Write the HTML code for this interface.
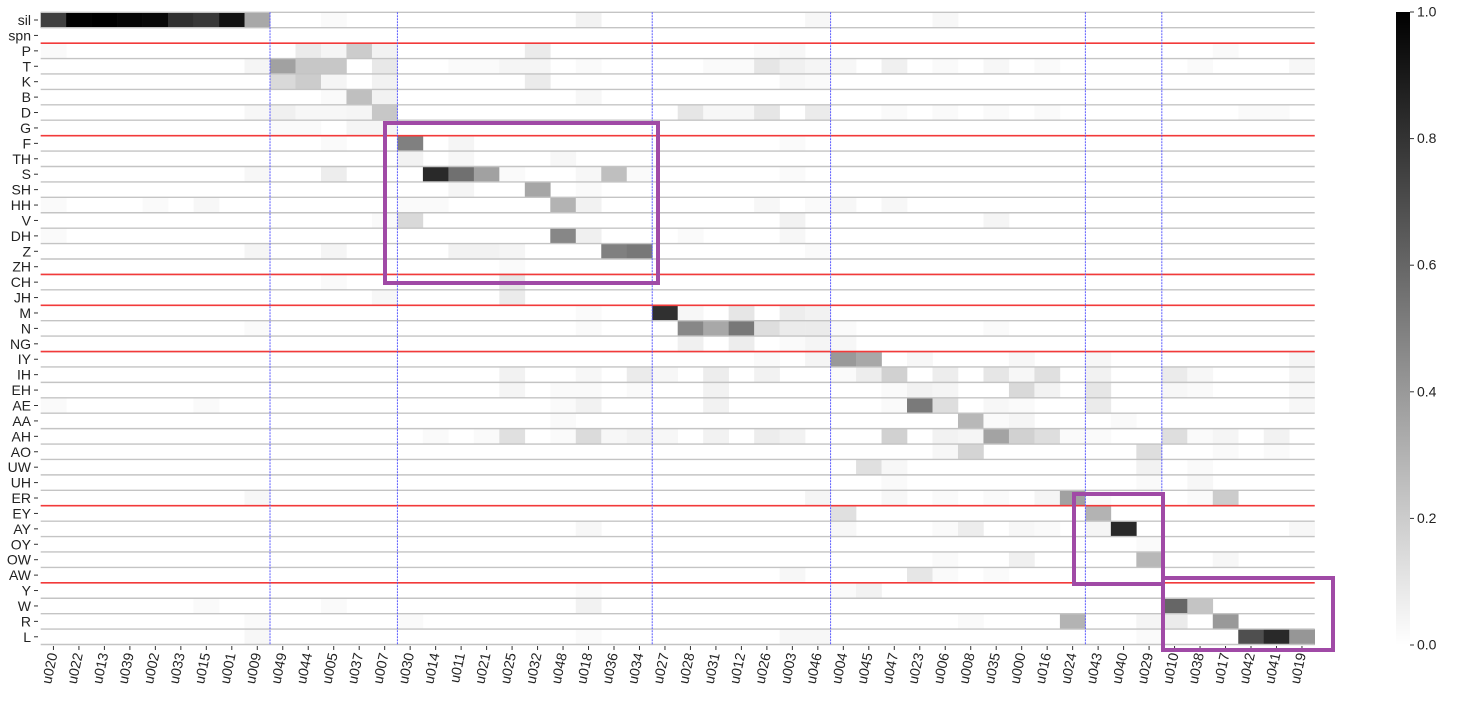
<!DOCTYPE html>
<html><head><meta charset="utf-8"><style>
html,body{margin:0;padding:0;background:#fff;}
svg text{font-family:"Liberation Sans","DejaVu Sans",sans-serif;font-size:14px;fill:#222;}
</style></head><body>
<svg id="chart" width="1460" height="698" viewBox="0 0 1460 698" xmlns="http://www.w3.org/2000/svg">
<g id="cells"></g>
<g id="grid"></g>
<g id="seps"></g>
<g id="ylabels"></g>
<g id="xlabels"></g>
<g id="boxes"></g>
<g id="cbar"></g>
</svg>
<script>
const rows=["sil","spn","P","T","K","B","D","G","F","TH","S","SH","HH","V","DH","Z","ZH","CH","JH","M","N","NG","IY","IH","EH","AE","AA","AH","AO","UW","UH","ER","EY","AY","OY","OW","AW","Y","W","R","L"];
const cols=["u020","u022","u013","u039","u002","u033","u015","u001","u009","u049","u044","u005","u037","u007","u030","u014","u011","u021","u025","u032","u048","u018","u036","u034","u027","u028","u031","u012","u026","u003","u046","u004","u045","u047","u023","u006","u008","u035","u000","u016","u024","u043","u040","u029","u010","u038","u017","u042","u041","u019"];
// sparse cells: [rowIndex, colIndex, value]
const cells=[
[0,0,0.75],[0,1,0.99],[0,2,1.0],[0,3,0.98],[0,4,0.97],[0,5,0.81],[0,6,0.78],[0,7,0.93],[0,8,0.34],[0,11,0.02],[0,21,0.05],[0,30,0.03],[0,35,0.03],
[2,0,0.02],[2,10,0.08],[2,11,0.04],[2,12,0.2],[2,13,0.05],[2,19,0.08],[2,28,0.02],[2,29,0.03],[2,46,0.02],
[3,8,0.04],[3,9,0.37],[3,10,0.22],[3,11,0.22],[3,13,0.09],[3,16,0.02],[3,17,0.02],[3,18,0.04],[3,19,0.04],[3,21,0.02],[3,26,0.02],[3,27,0.02],[3,28,0.1],[3,29,0.06],[3,30,0.04],[3,31,0.03],[3,33,0.06],[3,35,0.02],[3,37,0.03],[3,39,0.02],[3,45,0.02],[3,49,0.03],
[4,9,0.15],[4,10,0.2],[4,11,0.04],[4,13,0.05],[4,19,0.08],[4,29,0.03],[4,30,0.02],
[5,11,0.02],[5,12,0.25],[5,13,0.05],[5,21,0.03],
[6,8,0.03],[6,9,0.06],[6,10,0.03],[6,11,0.03],[6,12,0.04],[6,13,0.22],[6,25,0.1],[6,26,0.03],[6,27,0.03],[6,28,0.1],[6,30,0.08],[6,33,0.02],[6,35,0.02],[6,37,0.02],[6,39,0.02],[6,47,0.02],[6,48,0.02],
[7,9,0.02],[7,10,0.02],[7,12,0.04],[7,13,0.04],
[8,11,0.02],[8,14,0.5],[8,16,0.04],[8,29,0.02],
[9,14,0.05],[9,16,0.03],[9,20,0.03],
[10,8,0.03],[10,11,0.07],[10,15,0.84],[10,16,0.56],[10,17,0.37],[10,18,0.02],[10,21,0.03],[10,22,0.25],[10,23,0.02],[10,29,0.02],
[11,16,0.04],[11,19,0.35],[11,21,0.02],
[12,0,0.02],[12,4,0.02],[12,6,0.03],[12,14,0.02],[12,15,0.02],[12,20,0.3],[12,21,0.05],[12,28,0.03],[12,30,0.02],[12,31,0.03],[12,33,0.03],
[13,13,0.02],[13,14,0.15],[13,29,0.05],[13,37,0.04],
[14,0,0.02],[14,20,0.47],[14,21,0.06],[14,25,0.02],[14,29,0.03],
[15,8,0.04],[15,11,0.04],[15,16,0.05],[15,17,0.05],[15,18,0.04],[15,22,0.5],[15,23,0.53],[15,30,0.02],
[16,18,0.02],[17,11,0.02],[17,18,0.1],[18,13,0.03],[18,18,0.08],
[19,21,0.02],[19,24,0.81],[19,25,0.03],[19,27,0.1],[19,29,0.07],[19,30,0.05],
[20,8,0.02],[20,21,0.02],[20,25,0.47],[20,26,0.34],[20,27,0.53],[20,28,0.13],[20,29,0.08],[20,30,0.08],[20,31,0.02],[20,37,0.02],
[21,25,0.06],[21,27,0.07],[21,29,0.02],[21,30,0.04],[21,31,0.03],
[22,28,0.02],[22,30,0.04],[22,31,0.4],[22,32,0.34],[22,34,0.03],[22,38,0.03],[22,41,0.03],[22,49,0.04],
[23,18,0.05],[23,21,0.03],[23,23,0.08],[23,24,0.03],[23,26,0.07],[23,28,0.05],[23,31,0.02],[23,32,0.07],[23,33,0.18],[23,35,0.07],[23,37,0.1],[23,38,0.03],[23,39,0.12],[23,41,0.05],[23,44,0.08],[23,45,0.03],[23,49,0.04],
[24,18,0.04],[24,20,0.02],[24,21,0.02],[24,23,0.02],[24,26,0.05],[24,33,0.02],[24,34,0.05],[24,35,0.04],[24,38,0.15],[24,39,0.05],[24,41,0.1],[24,44,0.03],[24,45,0.02],[24,49,0.03],
[25,0,0.02],[25,6,0.02],[25,20,0.02],[25,21,0.05],[25,26,0.05],[25,33,0.02],[25,34,0.52],[25,35,0.13],[25,37,0.03],[25,38,0.02],[25,41,0.08],[25,49,0.03],
[26,20,0.02],[26,36,0.28],[26,37,0.02],[26,38,0.04],[26,42,0.02],
[27,15,0.02],[27,17,0.02],[27,18,0.12],[27,20,0.02],[27,21,0.14],[27,22,0.03],[27,23,0.05],[27,24,0.03],[27,26,0.05],[27,28,0.07],[27,29,0.05],[27,33,0.18],[27,35,0.05],[27,36,0.04],[27,37,0.36],[27,38,0.18],[27,39,0.13],[27,40,0.02],[27,41,0.02],[27,44,0.13],[27,45,0.02],[27,46,0.04],[27,48,0.05],
[28,35,0.03],[28,36,0.17],[28,43,0.13],[28,46,0.02],[28,48,0.02],
[29,32,0.12],[29,33,0.03],[29,43,0.05],[29,45,0.02],
[30,33,0.02],[30,43,0.02],[30,45,0.03],
[31,8,0.03],[31,30,0.04],[31,33,0.03],[31,35,0.02],[31,37,0.02],[31,39,0.04],[31,40,0.37],[31,41,0.02],[31,45,0.02],[31,46,0.2],
[32,31,0.12],[32,41,0.3],
[33,21,0.03],[33,31,0.03],[33,35,0.02],[33,36,0.07],[33,38,0.03],[33,39,0.02],[33,41,0.04],[33,42,0.84],[33,49,0.03],
[34,43,0.02],
[35,35,0.02],[35,38,0.06],[35,43,0.28],[35,46,0.03],
[36,29,0.03],[36,34,0.1],[36,35,0.02],[36,37,0.02],
[37,21,0.02],[37,31,0.02],[37,32,0.05],
[38,6,0.02],[38,11,0.02],[38,21,0.05],[38,44,0.6],[38,45,0.23],
[39,8,0.02],[39,14,0.02],[39,36,0.02],[39,40,0.3],[39,43,0.04],[39,44,0.08],[39,46,0.4],
[40,8,0.03],[40,21,0.02],[40,29,0.03],[40,30,0.03],[40,43,0.02],[40,47,0.69],[40,48,0.84],[40,49,0.41]
];
const rowGroupBreaks=["P","F","CH","M","IY","EY","Y"];
const colGroupBreaks=["u049","u030","u027","u004","u043","u010"];
const cbTicks=[0.0,0.2,0.4,0.6,0.8,1.0];

const NS="http://www.w3.org/2000/svg";
const L=40.7,T=12.3,CW=(1314.7-40.7)/cols.length,RH=(644.5-12.3)/rows.length;
const xPos=c=>L+c*CW, yPos=r=>T+r*RH;
const grey=v=>{const g=Math.round(255*(1-Math.max(0,Math.min(1,v))));return `rgb(${g},${g},${g})`;};
function mk(tag,attrs,parent){const e=document.createElementNS(NS,tag);for(const k in attrs)e.setAttribute(k,attrs[k]);parent.appendChild(e);return e;}
const gC=document.getElementById('cells');
cells.forEach(([r,c,v])=>{
  const e=mk('rect',{x:xPos(c),y:yPos(r),width:CW+0.3,height:RH+0.3,fill:grey(v)},gC);
  
  
});
const gG=document.getElementById('grid');
for(let r=0;r<=rows.length;r++){
  const e=mk('line',{x1:L,x2:1314.7,y1:yPos(r),y2:yPos(r),stroke:'#c4c4c4','stroke-width':1.4},gG);
  
  
}
const gS=document.getElementById('seps');
rowGroupBreaks.forEach(n=>{const y=yPos(rows.indexOf(n));
  const e=mk('line',{x1:L,x2:1314.7,y1:y,y2:y,stroke:'#f23a3a','stroke-width':1.6},gS);
  
  });
colGroupBreaks.forEach(n=>{const x=xPos(cols.indexOf(n));
  const e=mk('line',{x1:x,x2:x,y1:T,y2:644.5,stroke:'#5a5aff','stroke-width':1,'stroke-dasharray':'2,1'},gS);
  
  });
const gY=document.getElementById('ylabels');
rows.forEach((n,r)=>{const y=yPos(r)+RH/2;
  const t=mk('text',{x:31,y:y+5,'text-anchor':'end'},gY);t.textContent=n;
  
  
  const k=mk('line',{x1:34,x2:38,y1:y,y2:y,stroke:'#333','stroke-width':1},gY);
  
  });
const gX=document.getElementById('xlabels');
cols.forEach((n,c)=>{const x=xPos(c)+CW/2;
  const k=mk('line',{x1:x,x2:x,y1:646,y2:650,stroke:'#333','stroke-width':1},gX);
  
  
  const t=mk('text',{x:0,y:0,'text-anchor':'end',transform:`translate(${x+4},654) rotate(-78)`},gX);t.textContent=n;
  
  });
const gB=document.getElementById('boxes');
[[385,123,273,160],[1074,494,89,90],[1163,578,170,72]].forEach(b=>{
  const e=mk('rect',{x:b[0],y:b[1],width:b[2],height:b[3],fill:'none',stroke:'#a04aa6','stroke-width':4},gB);
  
  });
const gCb=document.getElementById('cbar');
const defs=mk('defs',{},gCb);
const lg=mk('linearGradient',{id:'cbg',x1:0,y1:0,x2:0,y2:1},defs);
mk('stop',{offset:0,'stop-color':'#000'},lg);mk('stop',{offset:1,'stop-color':'#fff'},lg);
const CB0=12,CB1=645;
const bar=mk('rect',{x:1396,y:CB0,width:14,height:CB1-CB0,fill:'url(#cbg)'},gCb);


cbTicks.forEach(v=>{const y=CB1-v*(CB1-CB0);
  const k=mk('line',{x1:1410,x2:1414,y1:y,y2:y,stroke:'#333'},gCb);
  
  
  const t=mk('text',{x:1417,y:y+4.5},gCb);t.textContent=v.toFixed(1);
  
  });
</script>
</body></html>
